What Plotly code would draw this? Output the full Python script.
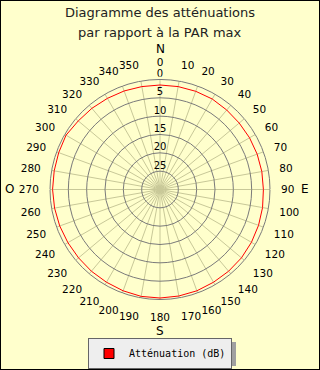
import plotly.graph_objects as go

# ---- data ----
angles = list(range(0, 360, 10))
attenuation = [1.5, 1.5, 1.5, 1.5, 1.7, 1.8, 1.8, 1.8, 1.8, 1.8,
               1.6, 1.4, 1.2, 1.0, 0.9, 0.8, 0.6, 0.5, 0.4, 0.4,
               0.6, 0.8, 0.9, 1.0, 1.0, 0.9, 0.8, 0.7, 0.7, 0.6,
               0.4, 0.9, 1.1, 1.3, 1.4, 1.5]
radial_ticks = [0, 5, 10, 15, 20, 25]
angle_ticks = list(range(0, 360, 10))
cardinals = ["N", "E", "S", "O"]
title_lines = ["Diagramme des atténuations", "par rapport à la PAR max"]
series_name = "Atténuation (dB)"

BG = "#FFFFCC"
W, H = 320, 370
cx, cy, R = 160, 189.5, 110

fig = go.Figure()

# red attenuation line (closed)
fig.add_trace(go.Scatterpolar(
    r=attenuation + attenuation[:1],
    theta=angles + angles[:1],
    mode="lines",
    line=dict(color="#FF0000", width=1),
    showlegend=False,
    hoverinfo="skip",
))

# radial labels along the 0 spoke
fig.add_trace(go.Scatterpolar(
    r=radial_ticks,
    theta=[0] * len(radial_ticks),
    mode="text",
    text=[str(v) for v in radial_ticks],
    textposition="top center",
    textfont=dict(family="DejaVu Sans", size=10, color="#000000"),
    showlegend=False,
    hoverinfo="skip",
))

# legend-only entry
fig.add_trace(go.Scatterpolar(
    r=[None], theta=[None],
    mode="markers",
    marker=dict(symbol="square", size=10, color="#FF0000",
                line=dict(color="#000000", width=1)),
    name=series_name,
))

x0 = (cx - R) / W
x1 = (cx + R) / W
y0 = (H - (cy + R)) / H
y1 = (H - (cy - R)) / H

legend_top = 338

fig.update_layout(
    width=W, height=H,
    margin=dict(l=0, r=0, t=0, b=0),
    paper_bgcolor=BG,
    font=dict(family="DejaVu Sans", size=10.5, color="#000000"),
    polar=dict(
        domain=dict(x=[x0, x1], y=[y0, y1]),
        bgcolor=BG,
        angularaxis=dict(
            rotation=90, direction="clockwise",
            tickmode="array", tickvals=angle_ticks,
            ticktext=[str(a) for a in angle_ticks],
            ticks="outside", ticklen=8.5, tickcolor=BG,
            showline=True, linecolor="#7A7A7A", linewidth=1,
            gridcolor="#C8C898", gridwidth=1,
            tickfont=dict(family="DejaVu Sans", size=10.5, color="#000000"),
        ),
        radialaxis=dict(
            range=[30, 0], tickmode="array", tickvals=[5, 10, 15, 20, 25],
            showticklabels=False, ticks="", showline=False,
            gridcolor="#7A7A7A", gridwidth=1,
        ),
    ),
    showlegend=True,
    legend=dict(
        x=0.5, xanchor="center", y=(H - legend_top) / H, yanchor="top",
        bgcolor="#EEEEEE", bordercolor="#666666", borderwidth=1,
        font=dict(family="DejaVu Sans Mono", size=10, color="#000000"),
    ),
)

# title
fig.add_annotation(text=title_lines[0], x=0.5, y=(H - 12) / H, xref="paper", yref="paper",
                   showarrow=False, font=dict(family="DejaVu Sans", size=13, color="#222222"),
                   xanchor="center", yanchor="middle")
fig.add_annotation(text=title_lines[1], x=0.5, y=(H - 32) / H, xref="paper", yref="paper",
                   showarrow=False, font=dict(family="DejaVu Sans", size=13, color="#222222"),
                   xanchor="center", yanchor="middle")

# cardinal points
card_pos = {"N": (160, 49), "E": (305, 189), "S": (160, 331), "O": (9, 189)}
for c in cardinals:
    px, py = card_pos[c]
    fig.add_annotation(text=c, x=px / W, y=(H - py) / H, xref="paper", yref="paper",
                       showarrow=False, font=dict(family="DejaVu Sans", size=12, color="#000000"),
                       xanchor="center", yanchor="middle")

# legend shadow
fig.add_shape(type="rect", xref="paper", yref="paper",
              x0=92 / W, x1=236 / W, y0=(H - (legend_top + 28)) / H, y1=(H - (legend_top + 4)) / H,
              fillcolor="#A0A0A0", line=dict(width=0), layer="above")

# border
fig.add_shape(type="rect", xref="paper", yref="paper", x0=0, x1=1, y0=0, y1=1,
              line=dict(color="#000000", width=2), fillcolor="rgba(0,0,0,0)")

fig.write_html("out.html")
